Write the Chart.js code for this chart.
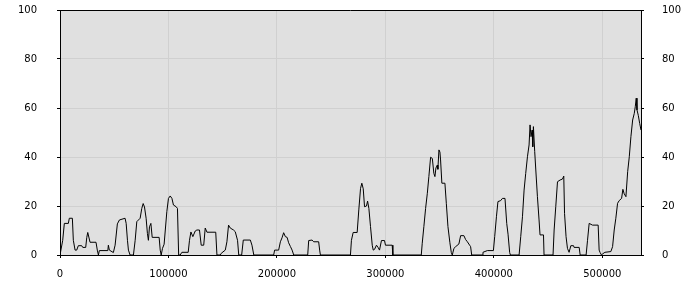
<!DOCTYPE html>
<html>
<head>
<meta charset="utf-8">
<script src="https://cdn.jsdelivr.net/npm/chart.js@4.4.1/dist/chart.umd.min.js"></script>
<style>
  html, body { margin: 0; padding: 0; background: #fff; }
  #wrap { width: 700px; height: 300px; }
</style>
</head>
<body>
<div id="wrap"><canvas id="chart" width="700" height="300"></canvas></div>
<script>
// positions along the x axis, in thousands
var positionK = [
  0, 2.5, 4.0, 7.7, 8.6, 11.4, 12.3, 13.9, 15.4, 16.9, 20.0, 21.0, 23.7, 24.7, 25.6, 27.7,
  33.2, 34.4, 35.4, 36.3, 44.1, 44.6, 45.5, 49.2, 50.8, 52.9, 54.8, 60.0, 61.0, 62.2, 63.1,
  64.6, 67.7, 69.3, 70.8, 73.9, 75.4, 76.7, 77.9, 79.4, 80.6, 81.5, 82.5, 83.8, 85.0, 91.4,
  92.4, 93.3, 94.5, 96.0, 98.5, 100.0, 101.6, 103.2, 104.6, 107.1, 108.3, 109.4, 110.8,
  112.4, 118.2, 119.4, 120.7, 122.5, 124.7, 126.2, 128.6, 130.2, 132.5, 133.9, 135.5,
  143.6, 144.7, 147.8, 148.7, 152.4, 153.9, 155.4, 157.0, 160.0, 161.6, 163.7, 164.8,
  167.5, 169.0, 175.5, 177.0, 178.7, 197.0, 197.9, 201.6, 203.2, 204.7, 206.2, 207.8,
  209.4, 210.8, 212.4, 214.0, 215.5, 228.4, 229.3, 232.4, 233.9, 238.5, 239.4, 240.1,
  267.8, 268.7, 270.3, 274.0, 275.5, 277.1, 278.3, 279.6, 280.8, 282.6, 283.6, 284.8,
  286.3, 287.9, 288.8, 290.0, 291.8, 293.4, 294.6, 296.4, 299.2, 300.1, 306.3, 306.9,
  333.1, 334.0, 335.5, 337.1, 338.7, 340.1, 341.7, 343.3, 344.7, 345.7, 346.6, 347.9,
  348.4, 349.4, 350.3, 350.9, 352.1, 354.9, 356.2, 357.7, 359.5, 360.8, 361.7, 363.2,
  364.8, 367.8, 369.4, 372.4, 374.0, 375.6, 377.7, 378.6, 379.6, 389.4, 390.0, 394.0,
  399.6, 400.8, 402.4, 403.8, 406.3, 407.9, 410.3, 411.9, 413.1, 414.6, 415.3, 423.3,
  424.8, 426.4, 427.9, 429.4, 431.0, 432.5, 433.4, 434.3, 435.3, 435.9, 436.5, 437.7,
  438.7, 440.2, 441.7, 442.6, 445.8, 446.3, 454.6, 455.6, 457.1, 458.7, 461.1, 463.3,
  464.5, 465.2, 466.6, 467.9, 469.4, 471.0, 473.5, 474.0, 478.7, 479.6, 485.1, 486.4,
  487.9, 491.0, 496.2, 497.1, 498.0, 499.3, 500.5, 502.4, 507.9, 509.5, 511.0, 512.5,
  514.1, 515.6, 517.8, 519.0, 520.2, 521.8, 523.4, 524.9, 526.4, 528.0, 529.5, 530.4,
  531.3, 532.0, 533.2, 534.5, 535.7
];
var values = [
  0, 6, 12.9, 12.9, 15, 15, 6, 2, 2, 3.8, 3.8, 3.1, 3.1, 7.2, 9.2, 5.2,
  5.2, 2, 0, 1.8, 1.8, 4, 2, 1, 4, 12.7, 14.3, 15, 12.9, 6, 2,
  0, 0, 6, 13.6, 15, 19, 21, 19.6, 15, 8.8, 6, 11.5, 12.9, 7.2, 7.2,
  2, 0, 2.7, 4.4, 17.7, 23.1, 24.1, 23.1, 20.4, 19.7, 19, 0, 0,
  1.1, 1.1, 6, 9.4, 7.5, 9.8, 10.2, 10.2, 4, 4, 11, 9.3,
  9.3, 0, 0, 0.7, 2, 5.4, 12.2, 11, 10.2, 9.5, 6, 0,
  0, 6.1, 6.1, 4, 0, 0, 2, 2, 5.4, 7, 9.1, 7.5,
  7.2, 5, 3.5, 2, 0, 0, 5.9, 6.1, 5.4, 5.4, 2, 0,
  0, 6, 9.2, 9.2, 18.4, 27.2, 29.3, 27, 19.7, 20, 22, 19,
  11.6, 4, 2, 2.3, 4, 3, 2, 5.9, 5.9, 4, 4, 0,
  0, 4.8, 11.6, 19, 25.2, 32, 39.9, 39.4, 33.3, 32, 35.5, 36.7,
  35, 42.9, 42, 38.8, 29.3, 29.3, 21.1, 11.6, 5, 1, 0, 2.7,
  3.4, 4.5, 7.9, 7.9, 6.3, 5.4, 4, 3.4, 0, 0, 1.1, 1.8,
  1.8, 7.5, 15.6, 21.8, 22.2, 23.1, 23.1, 12.9, 8.5, 1, 0, 0,
  7.5, 15.6, 26.5, 33.3, 40.1, 44.9, 53.1, 48.3, 51, 44.2, 52.4, 42.2,
  34.7, 23.8, 14.3, 8.2, 8.2, 0, 0, 10.2, 19.7, 29.9, 30.6, 31,
  32.2, 17, 7.5, 2.7, 1.1, 3.8, 3.8, 3.1, 3.1, 0, 0, 6,
  12.9, 12.2, 12.2, 2, 1, 0, 0.5, 1.1, 1.4, 3.4, 10.2, 15,
  21.1, 22.2, 23.1, 26.8, 25, 23.8, 34, 40.1, 48.3, 55.1, 57.8, 60.5,
  64, 59.2, 57, 53.7, 51
];
var xTicks = [0, 100000, 200000, 300000, 400000, 500000];
var yTicks = [0, 20, 40, 60, 80, 100];

var points = positionK.map(function(k, i) {
  return { x: k * 1000, y: values[i] };
});

var font = { family: 'DejaVu Sans', size: 10 };

// grey plot background and black frame on top
var plotFrame = {
  id: 'plotFrame',
  beforeDraw: function(chart) {
    var a = chart.chartArea, c = chart.ctx;
    c.save();
    c.fillStyle = '#e0e0e0';
    c.fillRect(a.left, a.top, a.right - a.left, a.bottom - a.top);
    c.restore();
  },
  afterDraw: function(chart) {
    var a = chart.chartArea, c = chart.ctx;
    c.save();
    c.strokeStyle = '#000';
    c.lineWidth = 1;
    c.beginPath();
    c.moveTo(a.left, a.top + 0.5);
    c.lineTo(a.right, a.top + 0.5);
    c.stroke();
    c.restore();
  }
};

function noPad(s) {
  s.paddingTop = 0;
  s.paddingBottom = 0;
}

function yAxis(pos, w, pad) {
  return {
    type: 'linear',
    position: pos,
    min: 0,
    max: 100,
    afterBuildTicks: function(s) { s.ticks = yTicks.map(function(v) { return { value: v }; }); },
    afterFit: function(s) { s.width = w; noPad(s); },
    ticks: { font: font, color: '#000', padding: pad },
    grid: {
      color: '#d0d0d0',
      tickColor: '#000',
      tickLength: 3,
      drawOnChartArea: pos === 'left'
    },
    border: { color: '#000', width: 1 }
  };
}

new Chart(document.getElementById('chart').getContext('2d'), {
  type: 'line',
  data: {
    datasets: [{
      data: points,
      borderColor: '#000',
      borderWidth: 1,
      pointRadius: 0,
      tension: 0,
      fill: false
    }]
  },
  options: {
    responsive: false,
    animation: false,
    layout: { padding: { top: 10, left: 0, right: 0, bottom: 0 } },
    plugins: { legend: { display: false }, tooltip: { enabled: false } },
    scales: {
      x: {
        type: 'linear',
        min: 0,
        max: 535700,
        afterBuildTicks: function(s) { s.ticks = xTicks.map(function(v) { return { value: v }; }); },
        afterFit: function(s) { s.height = 45; noPad(s); },
        ticks: {
          font: font, color: '#000', padding: 10, maxRotation: 0,
          callback: function(v) { return String(v); }
        },
        grid: { color: '#d0d0d0', tickColor: '#000', tickLength: 3 },
        border: { color: '#000', width: 1 }
      },
      y: yAxis('left', 60, 20),
      y2: yAxis('right', 59, 18)
    }
  },
  plugins: [plotFrame]
});
</script>
</body>
</html>
